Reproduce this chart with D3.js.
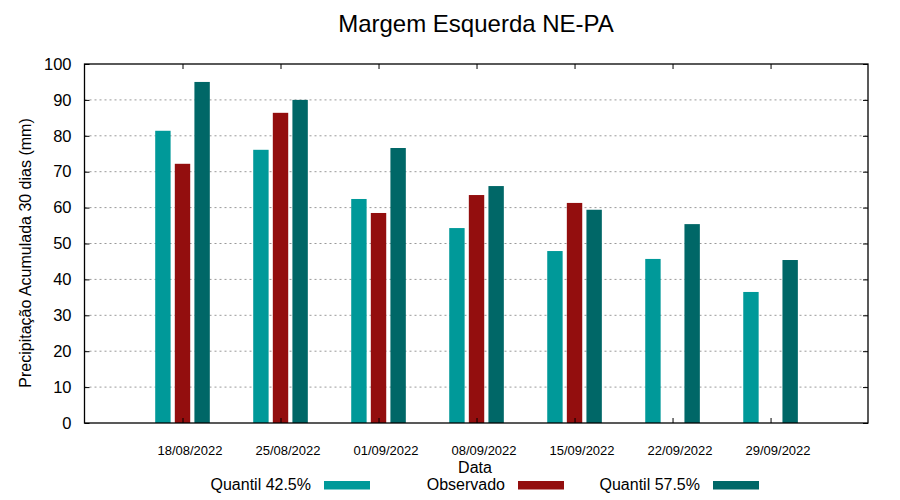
<!DOCTYPE html>
<html>
<head>
    <meta charset="utf-8">
    <style>
        body { margin: 0; background: #fff; }
        svg { font-family: 'Liberation Sans', Arial, sans-serif; }
    </style>
</head>
<body>
<svg width="900" height="500"></svg>
<script src="https://d3js.org/d3.v7.min.js"></script>
<script>
    // data
    let dates = ["18/08/2022", "25/08/2022", "01/09/2022", "08/09/2022", "15/09/2022", "22/09/2022", "29/09/2022"];
    let q425 = [81.4, 76.1, 62.4, 54.3, 47.9, 45.7, 36.5];
    let observado = [72.2, 86.4, 58.5, 63.5, 61.3, null, null];
    let q575 = [95.0, 90.0, 76.6, 66.0, 59.4, 55.4, 45.4];
    let yTicks = [0, 10, 20, 30, 40, 50, 60, 70, 80, 90, 100];

    let series = [
        { name: "Quantil 42.5%", values: q425, color: "#009999", off: -1.4 },
        { name: "Observado", values: observado, color: "#930e0e", off: 0 },
        { name: "Quantil 57.5%", values: q575, color: "#006767", off: 1.4 }
    ];

    let margin = { top: 64, left: 84.5, right: 32, bottom: 77 };
    let width = 900, height = 500;
    let svg = d3.select("svg");

    let parse = d3.timeParse("%d/%m/%Y");
    let day = 24 * 3600 * 1000;

    let x = d3.scaleTime()
        .domain([parse("11/08/2022"), new Date(parse("06/10/2022").getTime() - 0.04 * day)])
        .range([margin.left, width - margin.right]);

    let y = d3.scaleLinear()
        .domain([0, 100])
        .range([height - margin.bottom, margin.top]);

    let barW = 1.1 * day;

    // grid lines
    svg.append("g")
        .selectAll("line")
        .data(yTicks.slice(1, -1))
        .join("line")
        .attr("x1", margin.left)
        .attr("x2", width - margin.right)
        .attr("y1", d => y(d))
        .attr("y2", d => y(d))
        .style("stroke", "#999")
        .style("stroke-width", 1)
        .style("stroke-dasharray", "2,3")

    // bars
    series.forEach(s => {
        svg.append("g")
            .selectAll("rect")
            .data(dates.map((d, i) => ({ date: parse(d), v: s.values[i] })).filter(d => d.v != null))
            .join("rect")
            .attr("x", d => x(new Date(d.date.getTime() + s.off * day - barW / 2)))
            .attr("width", d => x(new Date(d.date.getTime() + barW)) - x(d.date))
            .attr("y", d => y(d.v))
            .attr("height", d => y(0) - y(d.v))
            .style("fill", s.color)
    })

    // y axis left + right mirror
    svg.append("g")
        .attr("transform", `translate(${margin.left},0)`)
        .call(d3.axisLeft(y).tickValues(yTicks).tickSize(-5).tickPadding(13))
        .call(g => g.select(".domain").remove())
        .call(g => g.selectAll("text").style("font-size", "16.5px").attr("fill", "#000"))

    svg.append("g")
        .attr("transform", `translate(${width - margin.right},0)`)
        .call(d3.axisRight(y).tickValues(yTicks).tickSize(-5).tickFormat(""))
        .call(g => g.select(".domain").remove())

    // x axis bottom + top mirror
    svg.append("g")
        .attr("transform", `translate(0,${y(0)})`)
        .call(d3.axisBottom(x).tickValues(dates.map(parse)).tickSize(-5).tickFormat(""))
        .call(g => g.select(".domain").remove())

    svg.append("g")
        .attr("transform", `translate(0,${margin.top})`)
        .call(d3.axisTop(x).tickValues(dates.map(parse)).tickSize(-5).tickFormat(""))
        .call(g => g.select(".domain").remove())

    svg.append("g")
        .selectAll("text")
        .data(dates)
        .join("text")
        .attr("x", d => x(parse(d)) + 7.5)
        .attr("y", 455)
        .attr("text-anchor", "middle")
        .style("font-size", "13px")
        .text(d => d)

    // border
    svg.append("rect")
        .attr("x", margin.left)
        .attr("y", margin.top)
        .attr("width", width - margin.right - margin.left)
        .attr("height", y(0) - margin.top)
        .style("fill", "none")
        .style("stroke", "#000")
        .style("stroke-width", 1.3)

    // titles
    svg.append("text")
        .attr("x", 476)
        .attr("y", 32)
        .attr("text-anchor", "middle")
        .style("font-size", "24px")
        .text("Margem Esquerda NE-PA")

    svg.append("text")
        .attr("x", 475)
        .attr("y", 472.5)
        .attr("text-anchor", "middle")
        .style("font-size", "16px")
        .text("Data")

    svg.append("text")
        .attr("transform", "translate(31,253) rotate(-90)")
        .attr("text-anchor", "middle")
        .style("font-size", "16px")
        .text("Precipitação Acumulada 30 dias (mm)")

    // legend
    let legendX = [311, 505, 700];
    series.forEach((s, i) => {
        svg.append("text")
            .attr("x", legendX[i])
            .attr("y", 489.5)
            .attr("text-anchor", "end")
            .style("font-size", "16px")
            .text(s.name)
        svg.append("rect")
            .attr("x", legendX[i] + 13)
            .attr("y", 481)
            .attr("width", 46)
            .attr("height", 8.5)
            .style("fill", s.color)
    })
</script>
</body>
</html>
